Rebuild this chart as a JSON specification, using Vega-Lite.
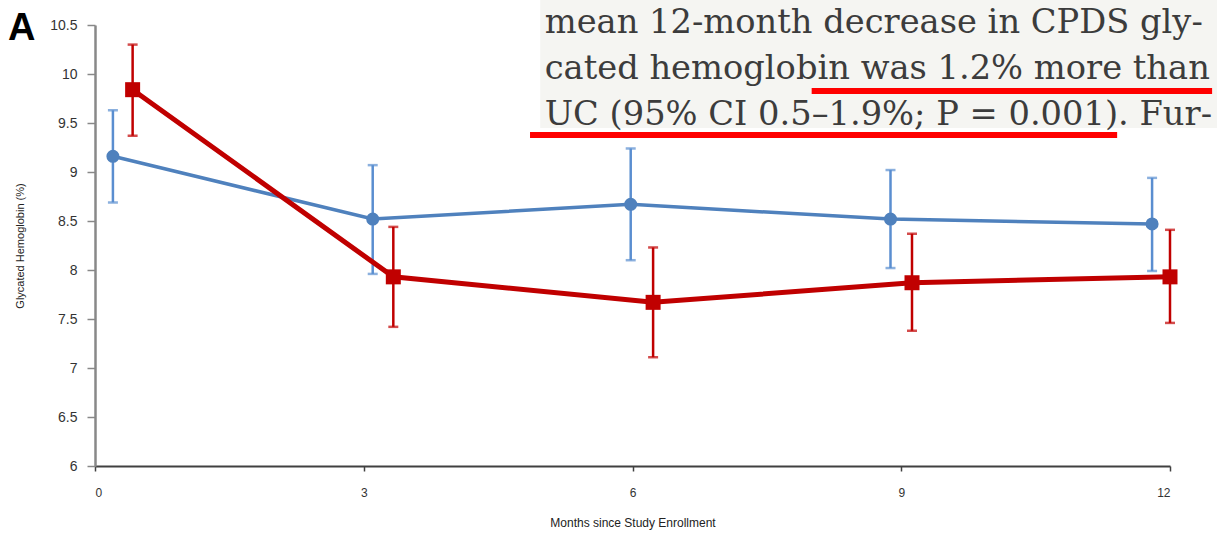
{
  "$schema": "https://vega.github.io/schema/vega-lite/v6.json",
  "autosize": "none",
  "width": 1075,
  "height": 441,
  "padding": {"left": 95, "top": 25, "right": 47, "bottom": 70},
  "background": "white",
  "config": {"view": {"stroke": null}},
  "datasets": {
    "pts": [
      {"group": "UC", "month": 0.2, "mean": 9.16, "lo": 8.69, "hi": 9.63},
      {"group": "UC", "month": 3.1, "mean": 8.52, "lo": 7.96, "hi": 9.07},
      {"group": "UC", "month": 5.98, "mean": 8.67, "lo": 8.1, "hi": 9.24},
      {"group": "UC", "month": 8.88, "mean": 8.52, "lo": 8.02, "hi": 9.02},
      {"group": "UC", "month": 11.8, "mean": 8.47, "lo": 7.99, "hi": 8.94},
      {"group": "CPDS", "month": 0.42, "mean": 9.84, "lo": 9.37, "hi": 10.3},
      {"group": "CPDS", "month": 3.33, "mean": 7.93, "lo": 7.42, "hi": 8.44},
      {"group": "CPDS", "month": 6.23, "mean": 7.67, "lo": 7.11, "hi": 8.23},
      {"group": "CPDS", "month": 9.12, "mean": 7.87, "lo": 7.38, "hi": 8.37},
      {"group": "CPDS", "month": 12.0, "mean": 7.93, "lo": 7.46, "hi": 8.41}
    ],
    "lines": [
      {"t": "mean 12-month decrease in CPDS gly-", "x": 5.02, "y": 10.418},
      {"t": "cated hemoglobin was 1.2% more than", "x": 5.02, "y": 9.949},
      {"t": "UC (95% CI 0.5–1.9%; P = 0.001). Fur-", "x": 5.02, "y": 9.48}
    ],
    "unders": [
      {"x": 8.0, "x2": 12.47, "y": 9.827},
      {"x": 4.856, "x2": 11.41, "y": 9.378}
    ],
    "box": [{"x": 4.97, "x2": 12.55, "y": 10.76, "y2": 9.45}],
    "lab": [{"t": "A", "x": -0.97, "y": 10.35}]
  },
  "encoding": {
    "x": {"type": "quantitative", "scale": {"domain": [0, 12], "nice": false, "zero": false}},
    "y": {"type": "quantitative", "scale": {"domain": [6, 10.5], "nice": false, "zero": false}}
  },
  "layer": [
    {
      "data": {"name": "box"},
      "mark": {"type": "rect", "color": "#f5f5f2", "clip": false},
      "encoding": {
        "x": {"field": "x", "type": "quantitative"},
        "x2": {"field": "x2"},
        "y": {"field": "y", "type": "quantitative"},
        "y2": {"field": "y2"}
      }
    },
    {
      "data": {"name": "pts"},
      "mark": {"type": "rule", "strokeWidth": 2.5},
      "encoding": {
        "x": {"field": "month", "type": "quantitative",
          "axis": {"values": [0, 3, 6, 9, 12], "format": "d", "title": "Months since Study  Enrollment", "grid": false,
            "domainColor": "#404040", "domainWidth": 2, "tickColor": "#404040", "tickSize": 5, "tickWidth": 1.5,
            "labelFont": "Liberation Sans", "labelFontSize": 12, "labelColor": "#333", "labelPadding": 16,
            "titleFont": "Liberation Sans", "titleFontSize": 12, "titleFontWeight": "normal", "titleColor": "#222", "titlePadding": 19}},
        "y": {"field": "lo", "type": "quantitative",
          "axis": {"values": [6, 6.5, 7, 7.5, 8, 8.5, 9, 9.5, 10, 10.5], "format": ".1~f", "title": "Glycated Hemoglobin  (%)", "grid": false,
            "domainColor": "#888", "domainWidth": 2.5, "tickColor": "#888", "tickSize": 8, "tickWidth": 1.5,
            "labelFont": "Liberation Sans", "labelFontSize": 14, "labelColor": "#333", "labelPadding": 10,
            "titleFont": "Liberation Sans", "titleFontSize": 11, "titleFontWeight": "normal", "titleColor": "#222", "titlePadding": 24}},
        "y2": {"field": "hi"},
        "color": {"field": "group", "type": "nominal", "scale": {"domain": ["UC", "CPDS"], "range": ["#5a8ed0", "#c00000"]}, "legend": null}
      }
    },
    {
      "data": {"name": "pts"},
      "mark": {"type": "tick", "orient": "horizontal", "size": 10, "thickness": 2.5},
      "encoding": {
        "x": {"field": "month", "type": "quantitative"},
        "y": {"field": "lo", "type": "quantitative"},
        "color": {"field": "group", "type": "nominal", "legend": null}
      }
    },
    {
      "data": {"name": "pts"},
      "mark": {"type": "tick", "orient": "horizontal", "size": 10, "thickness": 2.5},
      "encoding": {
        "x": {"field": "month", "type": "quantitative"},
        "y": {"field": "hi", "type": "quantitative"},
        "color": {"field": "group", "type": "nominal", "legend": null}
      }
    },
    {
      "data": {"name": "pts"},
      "transform": [{"filter": "datum.group == 'UC'"}],
      "mark": {"type": "line", "color": "#4f81bd", "strokeWidth": 3.5},
      "encoding": {
        "x": {"field": "month", "type": "quantitative"},
        "y": {"field": "mean", "type": "quantitative"}
      }
    },
    {
      "data": {"name": "pts"},
      "transform": [{"filter": "datum.group == 'UC'"}],
      "mark": {"type": "point", "shape": "circle", "filled": true, "opacity": 1, "color": "#4f81bd", "size": 170},
      "encoding": {
        "x": {"field": "month", "type": "quantitative"},
        "y": {"field": "mean", "type": "quantitative"}
      }
    },
    {
      "data": {"name": "pts"},
      "transform": [{"filter": "datum.group == 'CPDS'"}],
      "mark": {"type": "line", "color": "#c00000", "strokeWidth": 5, "clip": false},
      "encoding": {
        "x": {"field": "month", "type": "quantitative"},
        "y": {"field": "mean", "type": "quantitative"}
      }
    },
    {
      "data": {"name": "pts"},
      "transform": [{"filter": "datum.group == 'CPDS'"}],
      "mark": {"type": "point", "shape": "square", "filled": true, "opacity": 1, "color": "#c00000", "size": 225, "clip": false},
      "encoding": {
        "x": {"field": "month", "type": "quantitative"},
        "y": {"field": "mean", "type": "quantitative"}
      }
    },
    {
      "data": {"name": "lines"},
      "mark": {"type": "text", "align": "left", "baseline": "alphabetic", "font": "DejaVu Serif", "fontSize": 33.7, "color": "#3c3c3c", "clip": false},
      "encoding": {
        "x": {"field": "x", "type": "quantitative"},
        "y": {"field": "y", "type": "quantitative"},
        "text": {"field": "t"}
      }
    },
    {
      "data": {"name": "unders"},
      "mark": {"type": "rule", "color": "#ff0000", "strokeWidth": 6, "clip": false},
      "encoding": {
        "x": {"field": "x", "type": "quantitative"},
        "x2": {"field": "x2"},
        "y": {"field": "y", "type": "quantitative"}
      }
    },
    {
      "data": {"name": "lab"},
      "mark": {"type": "text", "align": "left", "baseline": "alphabetic", "font": "Liberation Sans", "fontWeight": "bold", "fontSize": 38, "color": "#000", "clip": false},
      "encoding": {
        "x": {"field": "x", "type": "quantitative"},
        "y": {"field": "y", "type": "quantitative"},
        "text": {"field": "t"}
      }
    }
  ]
}
